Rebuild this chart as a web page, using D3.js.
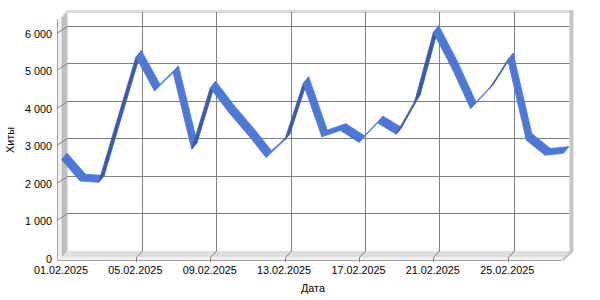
<!DOCTYPE html>
<html>
<head>
<meta charset="utf-8">
<script src="https://cdn.jsdelivr.net/npm/d3@7"></script>
<style>
  html, body { margin: 0; padding: 0; background: #ffffff; }
  svg { display: block; }
  text { font-family: "Liberation Sans", Arial, sans-serif; font-size: 10.8px; fill: #000; }
</style>
</head>
<body>
<script>
// ---- data ----
const categories = ["01.02.2025","02.02.2025","03.02.2025","04.02.2025","05.02.2025","06.02.2025","07.02.2025",
  "08.02.2025","09.02.2025","10.02.2025","11.02.2025","12.02.2025","13.02.2025","14.02.2025",
  "15.02.2025","16.02.2025","17.02.2025","18.02.2025","19.02.2025","20.02.2025","21.02.2025",
  "22.02.2025","23.02.2025","24.02.2025","25.02.2025","26.02.2025","27.02.2025","28.02.2025"];
const hits = [2630, 2060, 2030, 3700, 5360, 4460, 4950, 2910, 4540, 3890, 3310, 2690, 3150, 4660,
  3240, 3410, 3090, 3610, 3310, 4190, 6020, 5070, 3990, 4510, 5290, 3150, 2750, 2800];
const xTickLabels = ["01.02.2025","05.02.2025","09.02.2025","13.02.2025","17.02.2025","21.02.2025","25.02.2025"];
const yTicks = [0, 1000, 2000, 3000, 4000, 5000, 6000];
const yTitle = "Хиты";
const xTitle = "Дата";

(function () {
// ---- geometry ----
const W = 600, H = 300;
const svg = d3.select("body").append("svg").attr("width", W).attr("height", H);

const xBack = d3.scaleLinear().domain([0, categories.length - 1]).range([67.5, 569.5]);
const yBack = d3.scaleLinear().domain([0, 6370]).range([251, 12]);
const DX = 6.5, DY = 8; // depth offset (back -> front)
const proj = (i, v, z) => [xBack(i) - (1 - z) * DX, yBack(v) + (1 - z) * DY];
const poly = d3.line();
const P = pts => poly(pts) + "Z";

const leftX = xBack(0), rightX = xBack(categories.length - 1);
const topY = yBack.range()[1], bottomY = yBack.range()[0];

// back wall
svg.append("rect").attr("x", leftX).attr("y", topY).attr("width", rightX - leftX).attr("height", bottomY - topY)
  .attr("fill", "#ffffff");

// top band
svg.append("path").attr("d", P([[62, 15], [leftX, 10], [rightX + 4, 10], [rightX + 4, topY + 1], [leftX, topY + 1]]))
  .attr("fill", "#d9d9d9");

// left wall: light front strip + grey side
svg.append("path").attr("d", P([[57.5, 19.5], [61.5, 17], [61.5, 260], [57.5, 260]]))
  .attr("fill", "#f2f2f2");
svg.append("path").attr("d", P([[61.5, 17], [leftX, topY], [leftX, bottomY], [61.5, 257.5]]))
  .attr("fill", "#c0c0c0");
svg.append("line").attr("x1", 57.5).attr("y1", 19.5).attr("x2", 57.5).attr("y2", 260.5)
  .attr("stroke", "#a0a0a0").attr("stroke-width", 1);

// floor
svg.append("path").attr("d", P([[61.5, 257.5], [leftX, bottomY], [rightX, bottomY], [rightX - 6, 257.5]]))
  .attr("fill", "#dedede");
svg.append("path").attr("d", P([[57.5, 257.5], [rightX - 6, 257.5], [rightX - 8.5, 260], [57.5, 260]]))
  .attr("fill", "#f2f2f2");
svg.append("line").attr("x1", 57.5).attr("y1", 260.5).attr("x2", rightX - 8).attr("y2", 260.5)
  .attr("stroke", "#a0a0a0").attr("stroke-width", 1);

// right wall
svg.append("path").attr("d", P([[rightX, 10], [rightX + 4, 10], [rightX + 4, bottomY + 0.5], [rightX - 5.5, 260.5], [rightX - 8.5, 260.5], [rightX, bottomY]]))
  .attr("fill", "#c4c4c4");

// horizontal gridlines (back) + left wall diagonals
const grid = svg.append("g").attr("stroke", "#808080").attr("stroke-width", 1).attr("fill", "none");
yTicks.filter(v => v > 0).forEach(v => {
  const y = Math.round(yBack(v)) + 0.5;
  grid.append("line").attr("x1", leftX).attr("x2", rightX).attr("y1", y).attr("y2", y);
  grid.append("line").attr("x1", 57.5).attr("y1", y + 6.5).attr("x2", leftX).attr("y2", y);
});
// vertical gridlines (back) + floor diagonals
xTickLabels.forEach(lbl => {
  const i = categories.indexOf(lbl);
  if (i <= 0) return;
  const x = Math.round(xBack(i)) + 0.5;
  grid.append("line").attr("x1", x).attr("x2", x).attr("y1", topY).attr("y2", bottomY);
  grid.append("line").attr("x1", x).attr("y1", bottomY).attr("x2", x - 6).attr("y2", 257.5);
  grid.append("line").attr("x1", x - 6).attr("y1", 257.5).attr("x2", x - 6).attr("y2", 262);
});

// ribbon
const z0 = 0.08, z1 = 0.92;
const ribbon = svg.append("g");
for (let k = 0; k < hits.length - 1; k++) {
  const a0 = proj(k, hits[k], z0), a1 = proj(k + 1, hits[k + 1], z0);
  const b1 = proj(k + 1, hits[k + 1], z1), b0 = proj(k, hits[k], z1);
  const ax = a1[0] - a0[0], ay = a1[1] - a0[1];
  const bx = b0[0] - a0[0], by = b0[1] - a0[1];
  const cross = ax * by - ay * bx;
  const col = cross < 0 ? "#4e78d8" : "#3a5aab";
  ribbon.append("path").attr("d", P([a0, a1, b1, b0]))
    .attr("fill", col).attr("stroke", col).attr("stroke-width", 0.8).attr("stroke-linejoin", "round");
}

// y labels (front)
svg.append("g").selectAll("text").data(yTicks).join("text")
  .attr("x", 52).attr("y", d => yBack(d) + DY + 4)
  .attr("text-anchor", "end")
  .text(d => d3.format(",")(d).replace(/,/g, " "));

// x labels (front)
svg.append("g").selectAll("text").data(xTickLabels).join("text")
  .attr("x", d => xBack(categories.indexOf(d)) - 6.5)
  .attr("y", 274)
  .attr("text-anchor", "middle")
  .text(d => d);

// titles
svg.append("text").attr("x", 313).attr("y", 292).attr("text-anchor", "middle").text(xTitle);
svg.append("text").attr("transform", "translate(14,140) rotate(-90)").attr("text-anchor", "middle").text(yTitle);
})();
</script>
</body>
</html>
